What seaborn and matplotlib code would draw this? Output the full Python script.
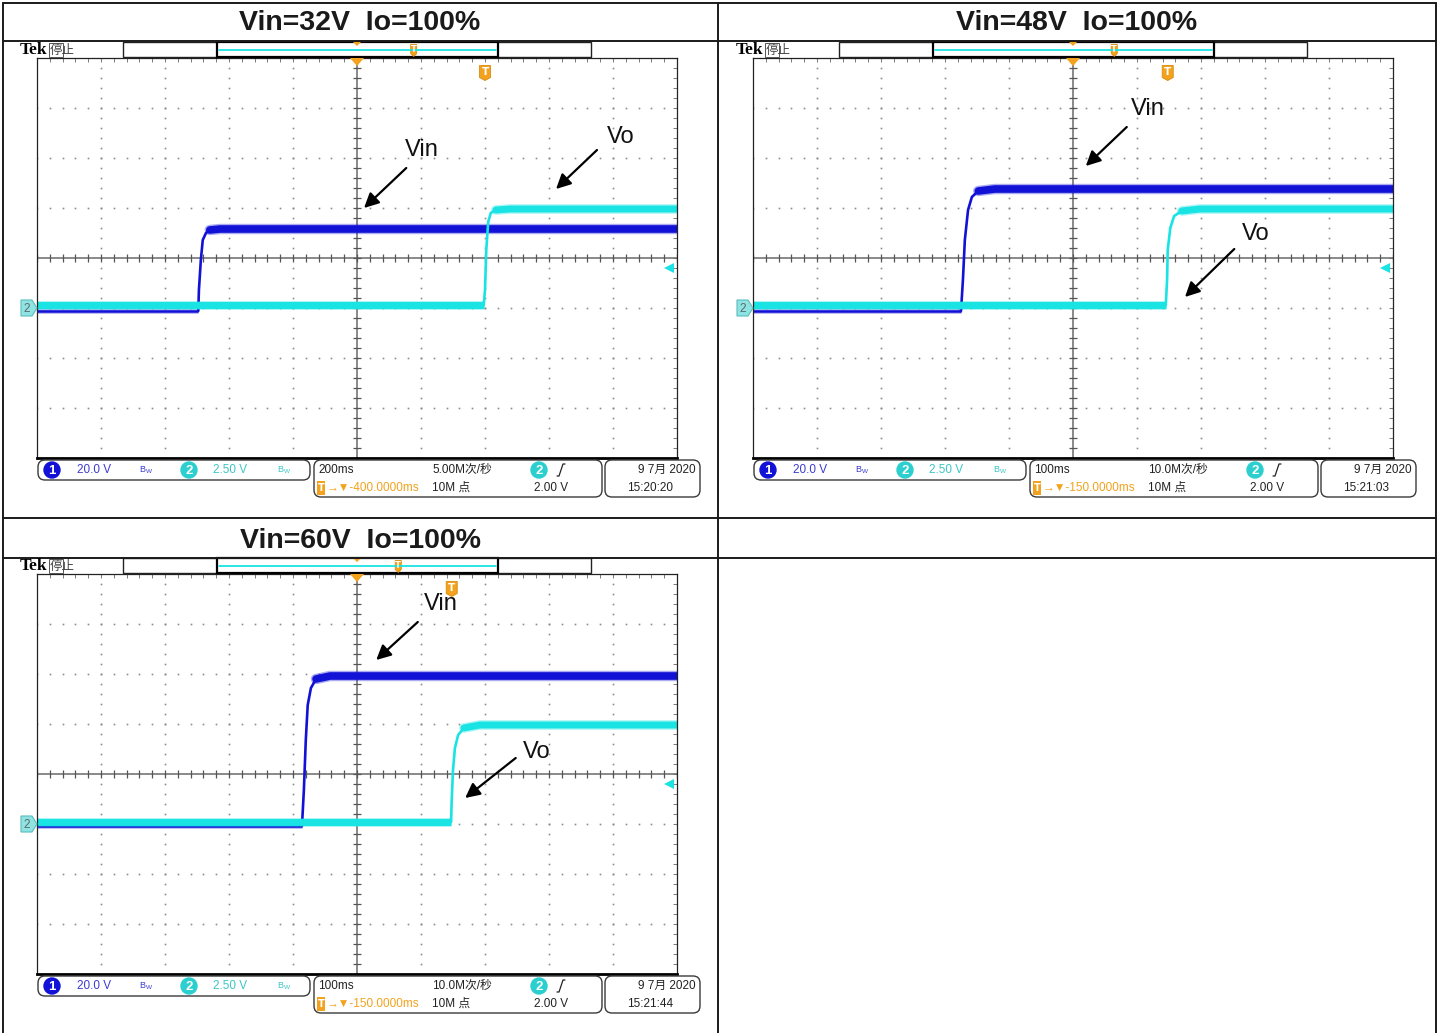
import numpy as np
import pandas as pd
import matplotlib
matplotlib.use('Agg')
import matplotlib.pyplot as plt
import seaborn as sns
from matplotlib import font_manager
from matplotlib.patches import Rectangle, FancyBboxPatch, Polygon, Circle

# ---- values read off the three scope captures
# x in horizontal divisions (-5..5), y in vertical divisions (-4..4)
titles = ['Vin=32V  Io=100%', 'Vin=48V  Io=100%', 'Vin=60V  Io=100%']

vin32_t = [-5.0, -2.48, -2.47, -2.44, -2.41, -2.36, -2.30, -2.14, 5.0]
vin32_v = [-1.06, -1.06, -0.64, -0.04, 0.36, 0.50, 0.56, 0.58, 0.58]
vo32_t = [-5.0, 1.98, 2.00, 2.02, 2.05, 2.09, 2.17, 2.39, 5.0]
vo32_v = [-0.94, -0.94, -0.64, 0.16, 0.72, 0.90, 0.96, 0.98, 0.98]

vin48_t = [-5.0, -1.75, -1.72, -1.69, -1.64, -1.58, -1.48, -1.22, 5.0]
vin48_v = [-1.06, -1.06, -0.44, 0.36, 0.96, 1.22, 1.34, 1.38, 1.38]
vo48_t = [-5.0, 1.45, 1.47, 1.48, 1.52, 1.58, 1.70, 1.98, 5.0]
vo48_v = [-0.94, -0.94, -0.44, 0.16, 0.60, 0.84, 0.94, 0.98, 0.98]

vin60_t = [-5.0, -0.86, -0.83, -0.80, -0.77, -0.72, -0.64, -0.42, 5.0]
vin60_v = [-1.04, -1.04, -0.32, 0.68, 1.38, 1.72, 1.90, 1.96, 1.96]
vo60_t = [-5.0, 1.47, 1.48, 1.50, 1.53, 1.58, 1.67, 1.92, 5.0]
vo60_v = [-0.96, -0.96, -0.52, 0.08, 0.52, 0.78, 0.92, 0.98, 0.98]

trig_div = [2.0, 1.48, 1.48]          # trigger point (T marker)
record_trig = [0.70, 0.645, 0.645]    # T position inside record bar
ch1_scale = '20.0 V'
ch2_scale = '2.50 V'
time_div = ['200ms', '100ms', '100ms']
sample_rate = ['5.00M次/秒', '10.0M次/秒', '10.0M次/秒']
trig_pos = ['-400.0000ms', '-150.0000ms', '-150.0000ms']
record_len = '10M 点'
trig_level = '2.00 V'
dates = ['9 7月 2020', '9 7月 2020', '9 7月 2020']
clocks = ['15:20:20', '15:21:03', '15:21:44']

# ---- layout / style
W, H = 1440, 1033
CH1 = '#1212d6'
CH2 = '#19e3e3'
CH1_TXT = '#3b3bd0'
CH2_TXT = '#3cc6c6'
ORANGE = '#f2a21c'
GRID = '#8c8c8c'

scope_origin = [(37, 58), (753, 58), (37, 574)]   # grid top-left in px
labels = [
    {'Vin': ((1.02, 2.16), (0.77, 1.80), (0.11, 1.00)),
     'Vo': ((4.12, 2.42), (3.75, 2.16), (3.11, 1.38))},
    {'Vin': ((1.17, 2.98), (0.84, 2.62), (0.20, 1.84)),
     'Vo': ((2.86, 0.48), (2.52, 0.18), (1.75, -0.78))},
    {'Vin': ((1.31, 3.40), (0.95, 3.04), (0.30, 2.28)),
     'Vo': ((2.81, 0.44), (2.48, 0.32), (1.69, -0.48))},
]
traces = [
    ((vin32_t, vin32_v), (vo32_t, vo32_v)),
    ((vin48_t, vin48_v), (vo48_t, vo48_v)),
    ((vin60_t, vin60_v), (vo60_t, vo60_v)),
]

sns.set_style('white')
installed = {f.name for f in font_manager.fontManager.ttflist}
NARROW = 'Liberation Sans Narrow' if 'Liberation Sans Narrow' in installed else 'Liberation Sans'
SMALL = [NARROW, 'Noto Sans CJK SC', 'DejaVu Sans']
SFS = 10 if NARROW == 'Liberation Sans Narrow' else 8.5
plt.rcParams['font.family'] = ['Liberation Sans', 'Noto Sans CJK SC', 'DejaVu Sans']


def draw_trace(ax, t, v, color, lo_w, hi_w):
    df = pd.DataFrame({'t': t, 'v': v})
    kw = dict(x='t', y='v', ax=ax, color=color, estimator=None, sort=False)
    # noisy flat parts drawn as thick bands, the edge itself thin
    sns.lineplot(data=df.iloc[:2], lw=lo_w + 1.5, alpha=0.35, solid_capstyle='butt', **kw)
    sns.lineplot(data=df.iloc[:2], lw=lo_w, solid_capstyle='butt', **kw)
    sns.lineplot(data=df.iloc[1:-1], lw=1.9, **kw)
    sns.lineplot(data=df.iloc[-3:], lw=hi_w + 2, alpha=0.35, solid_capstyle='round', **kw)
    sns.lineplot(data=df.iloc[-3:], lw=hi_w, solid_capstyle='round', **kw)


def grid_axes(fig, gx, gy):
    ax = fig.add_axes([gx / W, 1 - (gy + 400) / H, 640 / W, 400 / H])
    ax.set_xlim(-5, 5)
    ax.set_ylim(-4, 4)
    ax.set_facecolor('white')
    for s in ax.spines.values():
        s.set_color('#222222')
        s.set_linewidth(0.9)
    ax.spines['bottom'].set_linewidth(2.0)
    ax.spines['bottom'].set_color('black')
    ax.set_xticks(np.arange(-5, 5.001, 0.2))
    ax.set_yticks(np.arange(-4, 4.001, 0.2))
    ax.tick_params(direction='in', length=3, width=0.7, colors='#7a7a7a',
                   top=True, right=True, labelbottom=False, labelleft=False)
    # dotted graticule
    fine_x = np.arange(-5, 5.001, 0.2)
    fine_y = np.arange(-4, 4.001, 0.2)
    for gxv in range(-4, 5):
        if gxv != 0:
            ax.plot(np.full_like(fine_y, gxv), fine_y, ls='none', marker='s',
                    ms=1.2, mew=0, color=GRID)
    for gyv in range(-3, 4):
        if gyv != 0:
            ax.plot(fine_x, np.full_like(fine_x, gyv), ls='none', marker='s',
                    ms=1.2, mew=0, color=GRID)
    ax.axhline(0, color='#6a6a6a', lw=1.1)
    ax.axvline(0, color='#6a6a6a', lw=1.1)
    ax.vlines(fine_x, -0.08, 0.08, color='#555555', lw=0.9)
    ax.hlines(fine_y, -0.07, 0.07, color='#555555', lw=0.9)
    return ax


def rbox(bg, x, y, w, h):
    bg.add_patch(FancyBboxPatch((x, y), w, h, boxstyle='round,pad=0,rounding_size=7',
                                fc='white', ec='#3a3a3a', lw=1.0))


def badge(bg, x, y, num, color):
    bg.add_patch(Circle((x, y), 8, fc=color, ec=color))
    bg.text(x, y + 0.5, num, color='white', fontsize=9.5, ha='center', va='center',
            family=SMALL, weight='bold')


def bw(bg, x, y, color):
    bg.text(x, y, r'$\mathregular{B_W}$', color=color, fontsize=6.5, ha='center',
            va='center')


def tmark(bg, x, y, w, h):
    pts = [(x - w / 2, y - h / 2), (x + w / 2, y - h / 2), (x + w / 2, y + h / 2 - 3),
           (x, y + h / 2), (x - w / 2, y + h / 2 - 3)]
    bg.add_patch(Polygon(pts, closed=True, fc=ORANGE, ec='#d98a10', lw=0.6))
    bg.text(x, y - 1, 'T', color='white', fontsize=h * 0.5, weight='bold',
            ha='center', va='center', family='DejaVu Sans')


def scope_chrome(bg, i, dx, dy):
    # top status line
    bg.text(20 + dx, 50 + dy, 'Tek', family='Liberation Serif', weight='bold',
            fontsize=12.5, va='center', ha='left', color='black')
    bg.add_patch(Rectangle((49 + dx, 43 + dy), 14, 14, fc='none', ec='#555555', lw=0.7))
    bg.text(50 + dx, 50 + dy, '停止', family=['Noto Sans CJK SC'], fontsize=9,
            va='center', ha='left', color='#444444')
    bg.add_patch(Rectangle((123 + dx, 42 + dy), 468, 15, fc='white', ec='#222222', lw=1.0))
    bg.add_patch(Rectangle((217 + dx, 42 + dy), 281, 15, fc='white', ec='black', lw=1.6))
    bg.plot([219 + dx, 496 + dx], [49.5 + dy, 49.5 + dy], color=CH2, lw=1.3)
    bg.add_patch(Polygon([(353 + dx, 42 + dy), (361 + dx, 42 + dy), (357 + dx, 46 + dy)],
                         fc=ORANGE, ec='none'))
    tx = 217 + dx + record_trig[i] * 281
    tmark(bg, tx, 50.5 + dy, 6, 12)
    # trigger position marker at top of graticule
    bg.add_patch(Polygon([(350 + dx, 58 + dy), (364 + dx, 58 + dy), (357 + dx, 66 + dy)],
                         fc=ORANGE, ec='none', zorder=5))
    # ch2 ground marker
    bg.add_patch(Polygon([(21 + dx, 300 + dy), (32 + dx, 300 + dy), (37 + dx, 308 + dy),
                          (32 + dx, 316 + dy), (21 + dx, 316 + dy)],
                         fc='#8fe3e3', ec='#5bbcbc', lw=0.8, zorder=5))
    bg.text(27 + dx, 308.5 + dy, '2', color='#5a6a6a', fontsize=8.5, ha='center',
            va='center', family=SMALL, zorder=6)

    # bottom readouts
    y1, y2 = 470 + dy, 488 + dy
    rbox(bg, 38 + dx, 460 + dy, 272, 20)
    badge(bg, 52 + dx, y1, '1', CH1)
    bg.text(77 + dx, y1, ch1_scale, color=CH1_TXT, fontsize=SFS, va='center', family=SMALL)
    bw(bg, 146 + dx, y1, CH1_TXT)
    badge(bg, 189 + dx, y1, '2', '#2ccfcf')
    bg.text(213 + dx, y1, ch2_scale, color=CH2_TXT, fontsize=SFS, va='center', family=SMALL)
    bw(bg, 284 + dx, y1, CH2_TXT)

    rbox(bg, 314 + dx, 460 + dy, 288, 37)
    bg.text(318 + dx, y1, time_div[i], color='#222222', fontsize=SFS, va='center', family=SMALL)
    bg.text(432 + dx, y1, sample_rate[i], color='#222222', fontsize=SFS, va='center', family=SMALL)
    badge(bg, 539 + dx, y1, '2', '#2ccfcf')
    bg.plot([557 + dx, 559 + dx, 563 + dx, 565 + dx], [y1 + 6, y1 + 6, y1 - 6, y1 - 6],
            color='#222222', lw=0.9)
    bg.add_patch(Rectangle((317 + dx, y2 - 7), 8, 14, fc=ORANGE, ec='none'))
    bg.text(321 + dx, y2, 'T', color='white', fontsize=7, ha='center', va='center',
            family='DejaVu Sans', weight='bold')
    bg.text(327 + dx, y2, '→▼' + trig_pos[i], color=ORANGE, fontsize=SFS, va='center',
            family=[NARROW, 'DejaVu Sans'])
    bg.text(432 + dx, y2, record_len, color='#222222', fontsize=SFS, va='center', family=SMALL)
    bg.text(534 + dx, y2, trig_level, color='#222222', fontsize=SFS, va='center', family=SMALL)

    rbox(bg, 605 + dx, 460 + dy, 95, 37)
    bg.text(696 + dx, y1, dates[i], color='#222222', fontsize=SFS, va='center', ha='right',
            family=SMALL)
    bg.text(627 + dx, y2, clocks[i], color='#222222', fontsize=SFS, va='center', family=SMALL)


fig = plt.figure(figsize=(W / 100, H / 100), dpi=100)
bg = fig.add_axes([0, 0, 1, 1])
bg.set_xlim(0, W)
bg.set_ylim(H, 0)
bg.axis('off')

# table frame
for x in (3, 718, 1436):
    bg.plot([x, x], [3, H], color='#1a1a1a', lw=1.4)
for y in (3, 41, 518, 558):
    bg.plot([3, 1436], [y, y], color='#1a1a1a', lw=1.4)
bg.text(360, 23, titles[0], fontsize=20.5, weight='bold', ha='center', va='center', color='#1a1a1a')
bg.text(1077, 23, titles[1], fontsize=20.5, weight='bold', ha='center', va='center', color='#1a1a1a')
bg.text(360, 541, titles[2], fontsize=20.5, weight='bold', ha='center', va='center', color='#1a1a1a')

for i, (gx, gy) in enumerate(scope_origin):
    dx, dy = gx - 37, gy - 58
    scope_chrome(bg, i, dx, dy)
    ax = grid_axes(fig, gx, gy)
    (vt, vv), (ot, ov) = traces[i]
    draw_trace(ax, vt, vv, CH1, 1.8, 5.5)
    draw_trace(ax, ot, ov, CH2, 5.0, 5.0)
    ax.set_xlabel('')
    ax.set_ylabel('')
    # trigger level marker at the right edge
    ax.plot([4.88], [-0.2], marker='<', ms=7, color=CH2, mew=0, clip_on=False, zorder=6)
    for name, (txt, tail, head) in labels[i].items():
        ax.annotate('', xy=head, xytext=tail,
                    arrowprops=dict(arrowstyle='-|>', color='black', lw=1.6,
                                    mutation_scale=22, shrinkA=0, shrinkB=0))
        ax.text(txt[0], txt[1], name, fontsize=17, ha='center', va='center', color='#111111')
    tpx = gx + 320 + trig_div[i] * 64
    tmark(bg, tpx, gy + 15, 11, 15)

bg.set_zorder(3)
bg.patch.set_alpha(0)
fig.savefig('out.png', dpi=100)
